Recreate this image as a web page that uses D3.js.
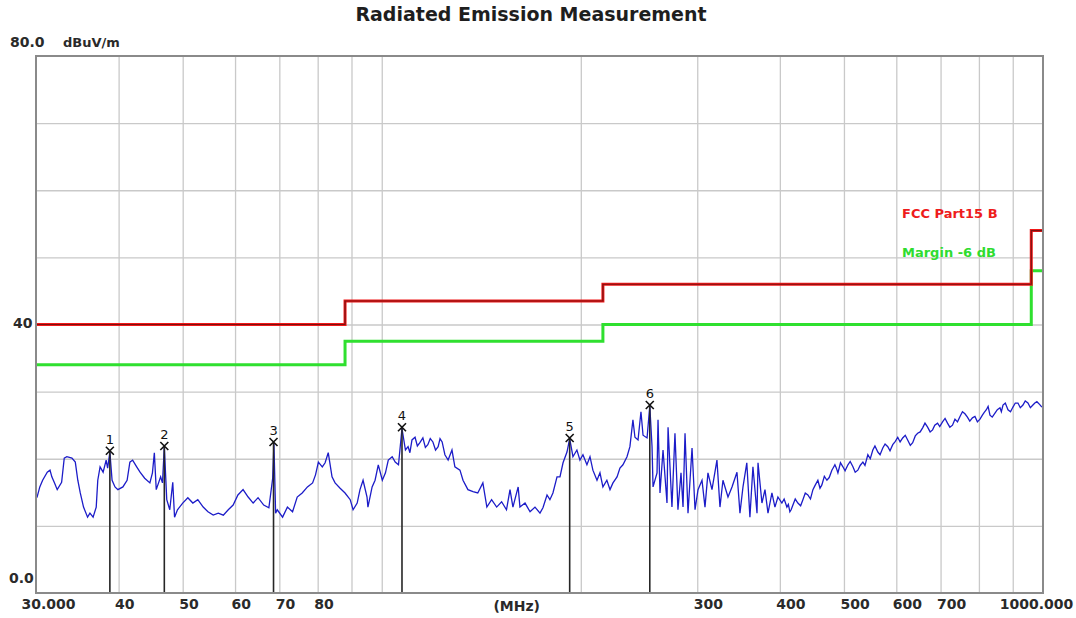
<!DOCTYPE html>
<html>
<head>
<meta charset="utf-8">
<script src="https://cdn.jsdelivr.net/npm/d3@7"></script>
<style>
  body { margin: 0; background: #fff; }
</style>
</head>
<body>
<div id="my_dataviz"></div>
<script>
const trace = [
  [30.1, 14.2], [30.4, 15.8], [30.7, 16.8], [31.2, 18.0], [31.5, 18.3], [31.7, 17.3], [32.0, 16.4], [32.3, 15.4], [32.8, 16.5], [33.1, 20.1],
  [33.4, 20.3], [34.0, 20.1], [34.4, 19.5], [34.7, 16.8], [35.0, 14.9], [35.4, 12.8], [35.9, 11.3], [36.2, 11.9], [36.6, 11.3], [37.0, 12.8],
  [37.2, 16.8], [37.5, 18.8], [37.9, 18.0], [38.3, 19.8], [38.5, 18.6], [38.8, 21.0], [39.1, 16.8], [39.5, 15.8], [39.9, 15.4], [40.6, 15.8],
  [41.2, 16.8], [41.6, 19.5], [42.0, 19.8], [42.6, 18.8], [43.1, 18.0], [43.8, 17.1], [44.6, 16.4], [45.0, 17.9], [45.3, 20.9], [45.6, 15.4],
  [46.3, 17.3], [46.6, 16.4], [46.9, 21.8], [47.3, 13.9], [47.8, 12.4], [48.3, 16.5], [48.6, 11.3], [49.1, 12.4], [50.0, 13.4], [50.9, 14.2],
  [51.8, 13.4], [52.7, 13.9], [53.7, 12.8], [54.6, 12.1], [55.6, 11.6], [56.6, 11.9], [57.6, 11.6], [58.6, 12.4], [59.6, 13.1], [60.6, 14.6],
  [61.7, 15.4], [62.8, 14.3], [63.9, 13.4], [65.0, 14.2], [66.3, 13.1], [67.5, 12.7], [68.4, 17.1], [68.7, 22.3], [69.1, 11.9], [69.5, 12.4],
  [70.8, 11.3], [72.0, 12.8], [73.3, 12.1], [74.5, 14.3], [75.8, 14.9], [77.2, 15.8], [78.6, 16.4], [79.4, 17.6], [80.2, 19.5], [81.3, 18.8],
  [82.1, 19.4], [83.0, 20.9], [84.1, 17.3], [85.0, 16.4], [86.5, 15.6], [88.0, 14.9], [89.6, 13.9], [90.5, 12.4], [91.8, 13.4], [92.7, 15.4],
  [93.7, 16.8], [95.0, 14.3], [95.3, 12.8], [96.7, 15.8], [97.7, 16.8], [98.8, 19.1], [100.2, 16.8], [101.3, 17.9], [102.3, 19.8], [103.7, 20.3],
  [104.8, 19.5], [106.0, 19.1], [107.3, 24.5], [108.6, 21.3], [109.6, 21.8], [110.3, 20.9], [111.1, 22.8], [112.3, 23.2], [113.2, 21.9], [114.2, 22.4],
  [115.4, 23.1], [116.4, 21.7], [117.4, 22.1], [118.4, 23.0], [119.5, 22.5], [120.6, 21.3], [121.7, 21.8], [122.5, 23.0], [123.4, 22.5], [124.6, 20.6],
  [126.0, 19.8], [127.7, 21.3], [129.0, 18.8], [131.3, 18.3], [132.7, 16.8], [135.0, 15.4], [137.4, 15.1], [139.7, 14.9], [142.2, 16.4], [144.2, 12.8],
  [146.6, 13.9], [149.2, 12.8], [151.8, 13.6], [154.4, 12.4], [156.3, 15.4], [157.9, 12.8], [160.8, 15.8], [161.8, 12.8], [164.7, 13.4], [167.6, 12.1],
  [170.5, 12.8], [173.5, 11.9], [175.3, 12.7], [177.8, 14.6], [179.6, 13.9], [181.5, 14.9], [184.1, 17.3], [186.0, 17.3], [188.0, 19.4], [190.6, 21.0],
  [192.4, 23.0], [194.6, 20.3], [197.3, 21.3], [199.4, 19.8], [201.5, 20.6], [204.3, 19.1], [206.5, 20.3], [208.6, 18.3], [211.6, 16.8], [213.8, 17.9],
  [216.0, 15.8], [219.0, 16.8], [221.4, 15.4], [223.7, 16.4], [226.9, 17.3], [229.2, 18.6], [231.6, 19.1], [234.9, 20.3], [237.3, 21.8], [239.8, 25.8],
  [241.5, 23.2], [244.1, 22.8], [246.6, 27.0], [248.4, 23.5], [251.9, 23.1], [254.3, 27.9], [256.3, 21.8], [257.2, 15.8], [260.8, 17.9], [261.7, 25.8],
  [263.5, 14.9], [266.3, 21.3], [270.0, 13.4], [271.0, 24.7], [274.7, 12.8], [277.6, 23.8], [280.5, 12.4], [283.5, 17.9], [285.5, 12.8], [287.5, 23.8],
  [290.5, 11.9], [294.6, 21.6], [297.7, 12.4], [300.8, 15.4], [305.0, 16.8], [308.2, 12.8], [311.4, 17.9], [315.8, 15.4], [321.3, 19.8], [324.7, 12.8],
  [328.1, 16.8], [333.9, 14.3], [338.6, 15.8], [344.5, 18.0], [348.1, 11.9], [351.8, 15.8], [356.5, 19.4], [360.4, 11.3], [364.2, 18.8], [369.4, 11.9],
  [370.7, 19.4], [375.8, 13.4], [379.8, 15.4], [383.8, 11.9], [389.1, 14.9], [393.2, 12.8], [397.3, 14.3], [402.8, 13.4], [406, 14.0], [409.9, 12.8],
  [412, 13.2], [414.2, 12.1], [416, 12.4], [418.6, 13.1], [422, 14.0], [425.9, 13.4], [430, 13.0], [433.4, 13.9], [437, 14.9], [441.0, 14.6],
  [445, 14.0], [448.8, 15.4], [452, 16.0], [456.6, 16.8], [460, 15.6], [463.0, 16.1], [467, 17.4], [471.2, 16.8], [475, 17.2], [479.4, 18.3],
  [482, 18.7], [484.5, 19.1], [487, 18.6], [489.6, 17.9], [494, 19.4], [498.2, 18.8], [502, 18.2], [507.0, 19.1], [511, 19.6], [515.9, 18.8],
  [520, 18.0], [524.8, 18.3], [529, 19.0], [534.1, 19.5], [538, 19.0], [543.4, 20.6], [548, 20.0], [552.9, 21.3], [557, 21.9], [562.6, 21.0],
  [567, 20.6], [572.4, 21.6], [577, 22.2], [582.5, 21.8], [587, 21.2], [592.6, 22.1], [598, 22.6], [603.0, 23.2], [608, 22.5], [613.5, 23.1],
  [619, 23.5], [624.2, 22.8], [630, 22.0], [635.2, 22.4], [641, 23.4], [646.3, 23.8], [652, 24.0], [657.6, 24.6], [663, 25.3], [669.1, 24.7],
  [675, 24.0], [680.8, 24.3], [686, 25.0], [692.7, 25.3], [698, 24.8], [704.8, 25.5], [711, 26.0], [717.1, 25.3], [723, 24.7], [729.7, 25.0],
  [736, 25.9], [742.5, 25.5], [749, 26.3], [755.4, 27.0], [762, 26.7], [768.6, 26.2], [775, 25.6], [782.1, 26.1], [789, 26.3], [795.8, 25.5],
  [803, 25.9], [809.7, 26.5], [815, 26.9], [821.0, 27.3], [826, 27.8], [831.4, 26.5], [838, 26.2], [846.0, 26.8], [853, 27.3], [860.9, 27.6],
  [865, 27.0], [870.0, 28.0], [877, 28.3], [885.2, 27.3], [893, 27.0], [900.7, 27.7], [908, 28.3], [916.5, 28.3], [924, 27.6], [932.6, 28.0],
  [940, 28.6], [948.9, 28.3], [957, 27.6], [965.5, 28.0], [972, 28.3], [979.0, 28.5], [988, 28.1], [996.2, 27.7]
];

// FCC Part15 B limit and -6 dB margin (step after each frequency)
const limitFreq = [30, 88, 216, 960, 1000];
const limitLevel = [40, 43.5, 46, 54, 54];
const marginLevel = [34, 37.5, 40, 48, 48];

// peak markers
const markerLabels = ["1", "2", "3", "4", "5", "6"];
const markerFreq = [38.8, 46.9, 68.6, 107.3, 192.4, 254.3];
const markerLevel = [21.2, 21.9, 22.5, 24.7, 23.1, 28.0];

// axes
const xTicks = [30, 40, 50, 60, 70, 80, 300, 400, 500, 600, 700, 1000];
const xTickLabels = ["30.000", "40", "50", "60", "70", "80", "300", "400", "500", "600", "700", "1000.000"];
const xGrid = [40, 50, 60, 70, 80, 90, 100, 200, 300, 400, 500, 600, 700, 800, 900];
const yTicks = [0, 40, 80];
const yTickLabels = ["0.0", "40", "80.0"];
const yGrid = [10, 20, 30, 40, 50, 60, 70];

const margin = { top: 56, right: 33, bottom: 25, left: 36 },
    width = 1076 - margin.left - margin.right,
    height = 618 - margin.top - margin.bottom;

const svgRoot = d3.select("#my_dataviz")
    .append("svg")
    .attr("width", width + margin.left + margin.right)
    .attr("height", height + margin.top + margin.bottom)
    .style("font-family", "'DejaVu Sans', sans-serif");

svgRoot.append("text")
    .attr("x", 531)
    .attr("y", 21)
    .attr("text-anchor", "middle")
    .style("font-size", "19px")
    .style("font-weight", "bold")
    .style("fill", "#1e1e1e")
    .text("Radiated Emission Measurement");

const chart = svgRoot.append("g")
    .attr("transform", `translate(${margin.left},${margin.top})`);

const x = d3.scaleLog().domain([30, 1000]).range([0, width]);
const y = d3.scaleLinear().domain([0, 80]).range([height, 0]);

// grid
chart.append("g")
    .attr("transform", `translate(0,${height})`)
    .call(d3.axisBottom(x).tickValues(xGrid).tickSize(-height).tickFormat(""))
    .call(g => g.select(".domain").remove())
    .call(g => g.selectAll("line").attr("stroke", "#c9c9c9").attr("stroke-width", 1.3));
chart.append("g")
    .call(d3.axisLeft(y).tickValues(yGrid).tickSize(-width).tickFormat(""))
    .call(g => g.select(".domain").remove())
    .call(g => g.selectAll("line").attr("stroke", "#c9c9c9").attr("stroke-width", 1.3));

// x labels
const xAxis = chart.append("g")
    .attr("transform", `translate(0,${height})`)
    .call(d3.axisBottom(x).tickValues(xTicks).tickSize(0).tickPadding(6)
        .tickFormat((d, i) => xTickLabels[i]));
xAxis.select(".domain").remove();
xAxis.selectAll("text")
    .attr("text-anchor", (d, i) => i === 0 || i === xTicks.length - 1 ? "middle" : "start")
    .attr("dx", (d, i) => i === 0 ? 12 : (i === xTicks.length - 1 ? -7 : -4))
    .style("font-size", "14px")
    .style("font-weight", "bold")
    .style("font-family", "'DejaVu Sans', sans-serif")
    .style("fill", "#2a2a2a");

chart.append("text")
    .attr("x", x(160))
    .attr("y", height + 18)
    .attr("text-anchor", "middle")
    .style("font-size", "14px")
    .style("font-weight", "bold")
    .style("fill", "#2a2a2a")
    .text("(MHz)");

// y labels
const yLabelDx = [-27, -23, -26];
const yLabelDy = [-10, 3, -9];
chart.selectAll(".ylab")
    .data(yTicks)
    .join("text")
    .attr("class", "ylab")
    .attr("x", (d, i) => yLabelDx[i])
    .attr("y", (d, i) => y(d) + yLabelDy[i])
    .style("font-size", "14px")
    .style("font-weight", "bold")
    .style("fill", "#2a2a2a")
    .text((d, i) => yTickLabels[i]);

chart.append("text")
    .attr("x", 27)
    .attr("y", -9)
    .style("font-size", "13px")
    .style("font-weight", "bold")
    .style("fill", "#2a2a2a")
    .text("dBuV/m");

// limit lines
const stepLine = d3.line()
    .x(d => x(d[0]))
    .y(d => y(d[1]))
    .curve(d3.curveStepAfter);
const limitPts = limitFreq.map((f, i) => [f, limitLevel[i]]);
const marginPts = limitFreq.map((f, i) => [f, marginLevel[i]]);

chart.append("path")
    .attr("d", stepLine(marginPts))
    .attr("fill", "none")
    .attr("stroke", "#2fe02f")
    .attr("stroke-width", 3);
chart.append("path")
    .attr("d", stepLine(limitPts))
    .attr("fill", "none")
    .attr("stroke", "#f01818")
    .attr("stroke-width", 3);
chart.append("path")
    .attr("d", stepLine(limitPts))
    .attr("fill", "none")
    .attr("stroke", "#7a1010")
    .attr("stroke-width", 1.2);

chart.append("text")
    .attr("x", 866)
    .attr("y", 162)
    .style("font-size", "13px")
    .style("font-weight", "bold")
    .style("fill", "#ee1c1c")
    .text("FCC Part15 B");
chart.append("text")
    .attr("x", 866)
    .attr("y", 201)
    .style("font-size", "13px")
    .style("font-weight", "bold")
    .style("fill", "#2fdc2f")
    .text("Margin -6 dB");

// trace
chart.append("path")
    .datum(trace)
    .attr("fill", "none")
    .attr("stroke", "#1c1cc8")
    .attr("stroke-width", 1.3)
    .attr("d", d3.line().x(d => x(d[0])).y(d => y(d[1])));

// markers
const markers = markerFreq.map((f, i) => ({ f: f, v: markerLevel[i], label: markerLabels[i] }));
const mk = chart.selectAll(".marker")
    .data(markers)
    .join("g")
    .attr("class", "marker")
    .attr("transform", d => `translate(${x(d.f)},${y(d.v)})`);
mk.append("line")
    .attr("x1", 0).attr("x2", 0)
    .attr("y1", 0)
    .attr("y2", d => height - y(d.v))
    .attr("stroke", "#262626")
    .attr("stroke-width", 1.6);
mk.append("path")
    .attr("d", "M-4,-4L4,4M-4,4L4,-4")
    .attr("stroke", "#111")
    .attr("stroke-width", 1.6);
mk.append("text")
    .attr("y", -7)
    .attr("text-anchor", "middle")
    .style("font-size", "13px")
    .style("fill", "#111")
    .text(d => d.label);

// frame
chart.append("rect")
    .attr("width", width)
    .attr("height", height)
    .attr("fill", "none")
    .attr("stroke", "#8a8a8a")
    .attr("stroke-width", 2);
</script>
</body>
</html>
